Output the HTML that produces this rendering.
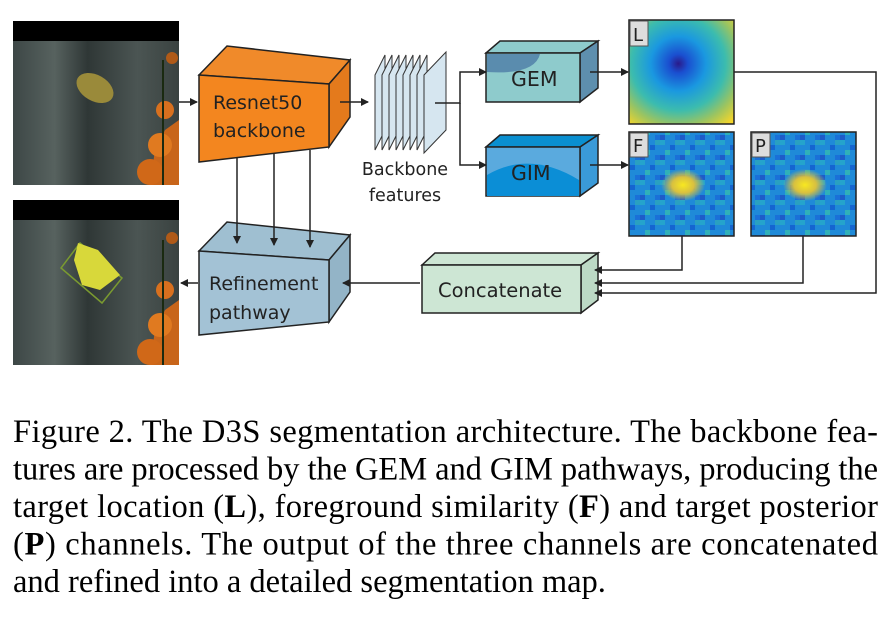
<!DOCTYPE html>
<html><head><meta charset="utf-8"><style>
html,body{margin:0;padding:0;background:#fff;width:887px;height:623px;overflow:hidden}
svg{display:block}
.sans{font-family:"DejaVu Sans","Liberation Sans",sans-serif}
.cap{font-family:"Liberation Serif",serif;font-size:32.5px;fill:#000}
</style></head><body>
<svg width="887" height="623" viewBox="0 0 887 623" xmlns="http://www.w3.org/2000/svg">
<defs>
<marker id="ah" markerWidth="8" markerHeight="8" refX="7" refY="4" orient="auto" markerUnits="userSpaceOnUse"><path d="M0,0 L8,4 L0,8 Z" fill="#222"/></marker>
<linearGradient id="bg" x1="0" x2="1" y1="0" y2="0">
<stop offset="0" stop-color="#3d4746"/><stop offset="0.25" stop-color="#57625f"/><stop offset="0.45" stop-color="#2f3736"/><stop offset="0.75" stop-color="#4b5553"/><stop offset="1" stop-color="#3a4240"/></linearGradient>
<radialGradient id="lg" cx="0.47" cy="0.42" r="0.75">
<stop offset="0" stop-color="#2a1a8a"/><stop offset="0.12" stop-color="#1a4fd0"/><stop offset="0.35" stop-color="#1a98e0"/><stop offset="0.6" stop-color="#3cbcae"/><stop offset="0.8" stop-color="#9cc460"/><stop offset="1" stop-color="#f5d52a"/></radialGradient>
<radialGradient id="blob" cx="0.5" cy="0.5" r="0.5">
<stop offset="0" stop-color="#f8e820"/><stop offset="0.5" stop-color="#d8c040"/><stop offset="1" stop-color="#d8c040" stop-opacity="0"/></radialGradient>
<pattern id="noise" width="20" height="20" patternUnits="userSpaceOnUse">
<rect width="20" height="20" fill="#1f8ad8"/><rect x="0" y="0" width="5" height="5" fill="#24a4cc"/><rect x="10" y="5" width="5" height="5" fill="#1565d0"/><rect x="5" y="10" width="5" height="5" fill="#30b0b8"/><rect x="15" y="15" width="5" height="5" fill="#1a70d8"/><rect x="15" y="0" width="5" height="5" fill="#2aa0c0"/><rect x="0" y="15" width="5" height="5" fill="#1e5cc8"/></pattern>
</defs>

<g>
<rect x="13" y="21" width="166" height="164" fill="url(#bg)"/><rect x="13" y="21" width="166" height="20" fill="#000"/>
<ellipse cx="95" cy="88" rx="20" ry="13" fill="#9a8a3a" transform="rotate(30 95 88)"/>
<path d="M150,185 L155,150 L165,130 L179,120 L179,185Z" fill="#c8651a"/>
<circle cx="165" cy="110" r="9" fill="#d8701e"/><circle cx="160" cy="145" r="12" fill="#e07a20"/><circle cx="150" cy="172" r="13" fill="#d06818"/><circle cx="172" cy="58" r="6" fill="#b05a18"/>
<line x1="163" y1="60" x2="163" y2="185" stroke="#1a2a10" stroke-width="2"/>
</g>
<g>
<rect x="13" y="200" width="166" height="165" fill="url(#bg)"/><rect x="13" y="200" width="166" height="20" fill="#000"/>
<path d="M80,243 L122,278 L102,303 L61,268Z" fill="none" stroke="#7a9a30" stroke-width="1.5"/>
<path d="M78,243 L98,250 L120,275 L100,290 L82,285 L74,260Z" fill="#d8d83a"/>
<path d="M150,365 L155,330 L165,310 L179,300 L179,365Z" fill="#c8651a"/>
<circle cx="165" cy="290" r="9" fill="#d8701e"/><circle cx="160" cy="325" r="12" fill="#e07a20"/><circle cx="150" cy="352" r="13" fill="#d06818"/><circle cx="172" cy="238" r="6" fill="#b05a18"/>
<line x1="163" y1="240" x2="163" y2="365" stroke="#1a2a10" stroke-width="2"/>
</g>

<g stroke="#222" stroke-width="1.5" fill="none">
<polygon points="199,75 227,46 350,60 329,84" fill="#f08a2a"/>
<polygon points="329,84 350,60 350,117 329,147" fill="#e47a1c"/>
<polygon points="199,75 329,84 329,147 199,162" fill="#f3861f"/>
<polygon points="199,251 227,222 350,235 329,260" fill="#9fbfd1"/>
<polygon points="329,260 350,235 350,292 329,322" fill="#93b4c7"/>
<polygon points="199,251 329,260 329,322 199,335" fill="#a3c2d5"/>
<polygon points="486,53 500,41 598,41 580,53" fill="#8ecbcc"/>
<polygon points="580,53 598,41 598,88 580,102" fill="#5e8fae"/>
<rect x="486" y="53" width="94" height="49" fill="#8ecbcc"/>
<path d="M487,54 L540,54 Q535,75 487,72Z" fill="#5a8cae" stroke="none"/>
<polygon points="486,147 500,135 598,135 580,147" fill="#0a8fd0"/>
<polygon points="580,147 598,135 598,183 580,196" fill="#3a9ad8"/>
<rect x="486" y="147" width="94" height="49" fill="#5aaade"/>
<path d="M487,196 L487,175 Q530,150 579,180 L579,196Z" fill="#0b8ed6" stroke="none"/>
<polygon points="422,265 435,253 598,253 581,265" fill="#cde6d4"/>
<polygon points="581,265 598,253 598,300 581,313" fill="#bcd9c5"/>
<rect x="422" y="265" width="159" height="48" fill="#cde6d4"/>
</g>

<g stroke="#333" stroke-width="1" fill="#d6e6f0">
<polygon points="375,75 385,55 385,130 375,150"/>
<polygon points="382,75 392,55 392,130 382,150"/>
<polygon points="389,75 399,55 399,130 389,150"/>
<polygon points="396,75 406,55 406,130 396,150"/>
<polygon points="403,75 413,55 413,130 403,150"/>
<polygon points="410,75 420,55 420,130 410,150"/>
<polygon points="417,75 427,55 427,130 417,150"/>
<polygon points="424,75 446,52 446,130 424,153"/>
</g>

<rect x="629" y="20" width="105" height="104" fill="url(#lg)" stroke="#222" stroke-width="1.5"/>
<rect x="629" y="132" width="105" height="104" fill="url(#noise)" stroke="#222" stroke-width="1.5"/>
<ellipse cx="683" cy="185" rx="22" ry="16" fill="url(#blob)"/>
<rect x="751" y="132" width="105" height="104" fill="url(#noise)" stroke="#222" stroke-width="1.5"/>
<ellipse cx="805" cy="185" rx="22" ry="16" fill="url(#blob)"/>
<g fill="#ddd" stroke="#555" stroke-width="1"><rect x="630" y="21" width="18" height="25"/><rect x="630" y="133" width="18" height="24"/><rect x="752" y="133" width="18" height="24"/></g>
<g class="sans" font-size="18" fill="#222"><text x="633" y="41">L</text><text x="633" y="152">F</text><text x="755" y="152">P</text></g>

<g stroke="#222" stroke-width="1.5" fill="none" marker-end="url(#ah)">
<line x1="179" y1="102" x2="197" y2="102"/>
<line x1="340" y1="102" x2="368" y2="102"/>
<line x1="237" y1="158" x2="237" y2="243"/>
<line x1="274" y1="154" x2="274" y2="245"/>
<line x1="310" y1="150" x2="310" y2="247"/>
<line x1="198" y1="283" x2="181" y2="283"/>
<line x1="420" y1="283" x2="343" y2="283"/>
<polyline points="435,103 460,103 460,72 486,72"/>
<polyline points="460,103 460,165 486,165"/>
<line x1="590" y1="72" x2="628" y2="72"/>
<line x1="590" y1="165" x2="628" y2="165"/>
<polyline points="682,236 682,270 595,270"/>
<polyline points="803,236 803,283 595,283"/>
<polyline points="734,72 876,72 876,293 595,293"/>
</g>

<g class="sans" fill="#222">
<text x="213" y="109" font-size="19">Resnet50</text>
<text x="213" y="137" font-size="19">backbone</text>
<text x="209" y="290" font-size="19">Refinement</text>
<text x="209" y="319" font-size="19">pathway</text>
<text x="511" y="86" font-size="20.5">GEM</text>
<text x="511" y="180" font-size="20.5">GIM</text>
<text x="438" y="297" font-size="19.5">Concatenate</text>
<text x="405" y="175" font-size="17.5" text-anchor="middle">Backbone</text>
<text x="405" y="201" font-size="17.5" text-anchor="middle">features</text>
</g>

<text class="cap" x="13" y="442" textLength="865" lengthAdjust="spacing">Figure 2. The D3S segmentation architecture. The backbone fea-</text>
<text class="cap" x="13" y="479.5" textLength="865" lengthAdjust="spacing">tures are processed by the GEM and GIM pathways, producing the</text>
<text class="cap" x="13" y="517" textLength="865" lengthAdjust="spacing">target location (<tspan font-weight="bold">L</tspan>), foreground similarity (<tspan font-weight="bold">F</tspan>) and target posterior</text>
<text class="cap" x="13" y="554.5" textLength="865" lengthAdjust="spacing">(<tspan font-weight="bold">P</tspan>) channels.  The output of the three channels are concatenated</text>
<text class="cap" x="13" y="592">and refined into a detailed segmentation map.</text>
</svg>
</body></html>
